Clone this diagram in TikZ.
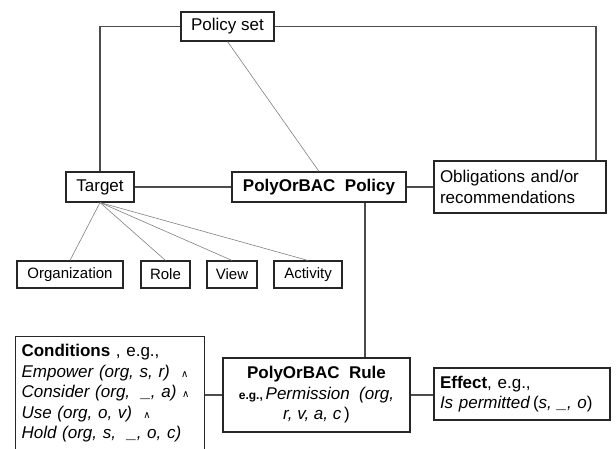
\documentclass[tikz,border=0pt]{standalone}
\usepackage{fontspec}
\setmainfont{Liberation Sans}
\newfontfamily\dejavu{DejaVu Sans}
\newcommand\andsym{{\dejavu\fontsize{10}{10}\selectfont ∧}}
\begin{document}
\begin{tikzpicture}[x=1pt,y=-1pt,
  box/.style={draw=black!85, line width=1.1pt, inner sep=4pt, font=\fontsize{17}{20.5}\selectfont},
  smallbox/.style={box, font=\fontsize{15}{18}\selectfont},
  thinline/.style={draw=black!50, line width=0.6pt},
  midline/.style={draw=black!70, line width=1.1pt}]
\useasboundingbox (0,0) rectangle (616,449);
\clip (0,0) rectangle (616,449);
\node[box, minimum width=93pt, minimum height=29pt] (ps) at (227.5,26.5) {Policy set};
\node[box, minimum width=68pt, minimum height=30pt] (tgt) at (100,187) {Target};
\node[box, minimum width=174pt, minimum height=30pt, font=\fontsize{17}{20.5}\selectfont\bfseries] (pol) at (319,187) {PolyOrBAC\ \ Policy};
\node[box, minimum width=172pt, minimum height=52pt, text width=160pt, align=left, inner sep=6pt] (obl) at (520,187) {Obligations and/or\\recommendations};
\node[smallbox, minimum width=106pt, minimum height=27pt] (org) at (70,274.5) {Organization};
\node[smallbox, minimum width=49pt, minimum height=27pt] (role) at (165.5,274.5) {Role};
\node[smallbox, minimum width=50pt, minimum height=27pt] (view) at (232,274.5) {View};
\node[smallbox, minimum width=68pt, minimum height=27pt] (act) at (308,274.5) {Activity};
\node[box, anchor=north west, text width=177pt, align=left, inner xsep=6pt, inner ysep=8pt] (cond) at (15,336) {\textbf{Conditions} , e.g.,\\
\textit{Empower (org, s, r)}\ \ \andsym\\
\textit{Consider (org,\ \ \_, a)} \andsym\\
\textit{Use (org, o, v)}\ \ \andsym\\
\textit{Hold (org, s,\ \ \_, o, c)}};
\node[box, minimum width=187pt, minimum height=74pt, align=center] (rule) at (316.5,395) {\textbf{PolyOrBAC\ \ Rule}\\
{\fontsize{12}{12}\selectfont\bfseries e.g.,}\,\textit{Permission\ \ (org,}\\
\textit{r, v, a, c\,})};
\node[box, minimum width=176pt, minimum height=52pt, text width=164pt, align=left, inner sep=6pt] (eff) at (522,394) {\textbf{Effect}, e.g.,\\
\textit{Is permitted}\,(\textit{s, \_, o})};
\coordinate (rx) at (596,0);
\coordinate (vx) at (365,0);
\draw[midline] (tgt.north) |- (ps.west);
\draw[midline] (ps.east) -| (rx |- obl.north);
\draw[thinline] (ps.south) -- (pol.north);
\draw[midline] (tgt.east) -- (pol.west);
\draw[midline] (pol.east) -- (obl.west);
\draw[thinline] (tgt.south) -- (org.north);
\draw[thinline] (tgt.south) -- (role.north);
\draw[thinline] (tgt.south) -- (view.north);
\draw[thinline] (tgt.south) -- (act.north);
\draw[midline] (vx |- pol.south) -- (vx |- rule.north);
\draw[midline] (rule.west) -- (rule.west -| cond.east);
\draw[midline] (rule.east) -- (rule.east -| eff.west);
\end{tikzpicture}
\end{document}
